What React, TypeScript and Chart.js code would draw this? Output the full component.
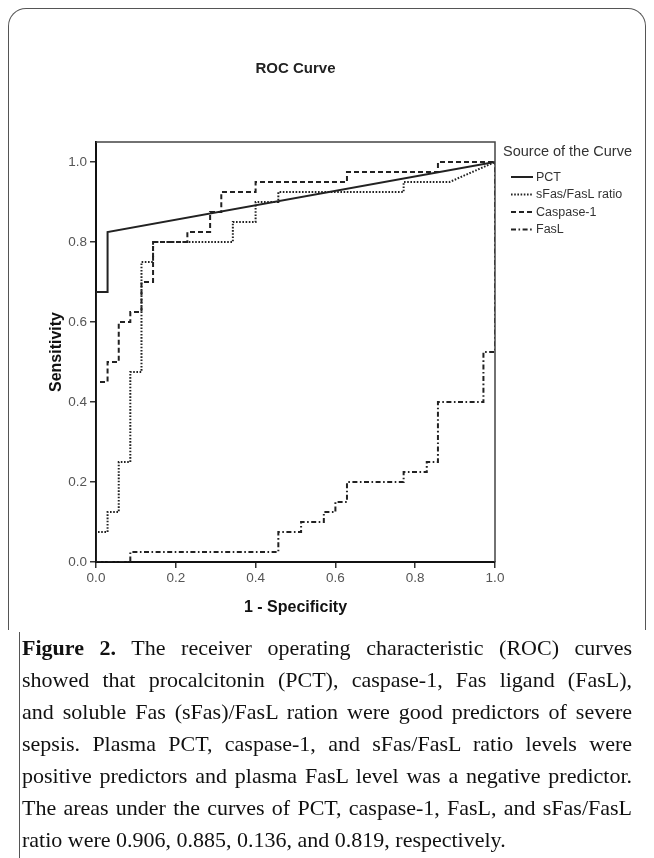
import React, { useEffect, useRef } from "react";
import { Chart, registerables } from "chart.js";

Chart.register(...registerables);

// ---- data ----
const curveNames = ["PCT", "sFas/FasL ratio", "Caspase-1", "FasL"];

const pctX = [0, 0, 0.029, 0.029, 1];
const pctY = [0, 0.675, 0.675, 0.825, 1];

const sfasX = [0, 0, 0.029, 0.029, 0.057, 0.057, 0.086, 0.086, 0.114, 0.114, 0.143, 0.143, 0.343, 0.343, 0.4, 0.4, 0.457, 0.457, 0.771, 0.771, 0.886, 1];
const sfasY = [0, 0.075, 0.075, 0.125, 0.125, 0.25, 0.25, 0.475, 0.475, 0.75, 0.75, 0.8, 0.8, 0.85, 0.85, 0.9, 0.9, 0.925, 0.925, 0.95, 0.95, 1];

const caspX = [0, 0, 0.029, 0.029, 0.057, 0.057, 0.086, 0.086, 0.114, 0.114, 0.143, 0.143, 0.229, 0.229, 0.286, 0.286, 0.314, 0.314, 0.4, 0.4, 0.629, 0.629, 0.857, 0.857, 1];
const caspY = [0, 0.45, 0.45, 0.5, 0.5, 0.6, 0.6, 0.625, 0.625, 0.7, 0.7, 0.8, 0.8, 0.825, 0.825, 0.875, 0.875, 0.925, 0.925, 0.95, 0.95, 0.975, 0.975, 1, 1];

const faslX = [0, 0.086, 0.086, 0.457, 0.457, 0.514, 0.514, 0.571, 0.571, 0.6, 0.6, 0.629, 0.629, 0.771, 0.771, 0.829, 0.829, 0.857, 0.857, 0.971, 0.971, 1, 1];
const faslY = [0, 0, 0.025, 0.025, 0.075, 0.075, 0.1, 0.1, 0.125, 0.125, 0.15, 0.15, 0.2, 0.2, 0.225, 0.225, 0.25, 0.25, 0.4, 0.4, 0.525, 0.525, 1];

const tickValues = [0, 0.2, 0.4, 0.6, 0.8, 1.0];

const chartTitle = "ROC Curve";
const legendTitle = "Source of the Curve";
const xTitle = "1 - Specificity";
const yTitle = "Sensitivity";

const captionLabel = "Figure 2.";
const captionLines = [
  " The receiver operating characteristic (ROC) curves",
  "showed that procalcitonin (PCT), caspase-1, Fas ligand (FasL),",
  "and soluble Fas (sFas)/FasL ration were good predictors of severe",
  "sepsis. Plasma PCT, caspase-1, and sFas/FasL ratio levels were",
  "positive predictors and plasma FasL level was a negative predictor.",
  "The areas under the curves of PCT, caspase-1, FasL, and sFas/FasL",
  "ratio were 0.906, 0.885, 0.136, and 0.819, respectively.",
];

const SANS = "'Liberation Sans', Arial, Helvetica, sans-serif";
const SERIF = "'Liberation Serif', 'Times New Roman', Times, serif";

const lineStyles = [
  { dash: [] as number[], width: 2 },
  { dash: [1.6, 1.6], width: 2 },
  { dash: [5, 3], width: 2 },
  { dash: [5, 2.5, 1.6, 2.5], width: 2 },
];

function toPoints(xs: number[], ys: number[]) {
  return xs.map((x, i) => ({ x, y: ys[i] }));
}

export default function App() {
  const canvasRef = useRef<HTMLCanvasElement>(null);

  useEffect(() => {
    document.documentElement.style.overflow = "hidden";
    const canvas = canvasRef.current;
    if (!canvas) return;
    const series = [
      [pctX, pctY],
      [sfasX, sfasY],
      [caspX, caspY],
      [faslX, faslY],
    ];

    const decor = {
      id: "decor",
      afterDatasetsDraw(chart: any) {
        const { ctx, chartArea } = chart;
        ctx.save();
        ctx.strokeStyle = "#444";
        ctx.lineWidth = 1.5;
        ctx.beginPath();
        ctx.moveTo(chartArea.left, chartArea.top);
        ctx.lineTo(chartArea.right, chartArea.top);
        ctx.lineTo(chartArea.right, chartArea.bottom);
        ctx.stroke();
        ctx.restore();
      },
      afterDraw(chart: any) {
        const { ctx, chartArea } = chart;
        ctx.save();
        ctx.fillStyle = "#222";
        ctx.font = `bold 15px ${SANS}`;
        ctx.textAlign = "center";
        ctx.textBaseline = "middle";
        ctx.fillText(chartTitle, (chartArea.left + chartArea.right) / 2, 61);
        const lx = chartArea.right + 8;
        ctx.textAlign = "left";
        ctx.fillStyle = "#333";
        ctx.font = `14.5px ${SANS}`;
        ctx.fillText(legendTitle, lx, chartArea.top + 10);
        ctx.font = `12.5px ${SANS}`;
        chart.data.datasets.forEach((ds: any, i: number) => {
          const y = chartArea.top + 35 + i * 17.5;
          ctx.save();
          ctx.strokeStyle = "#222";
          ctx.lineWidth = ds.borderWidth;
          ctx.setLineDash(ds.borderDash || []);
          ctx.beginPath();
          ctx.moveTo(lx + 8, y);
          ctx.lineTo(lx + 30, y);
          ctx.stroke();
          ctx.restore();
          ctx.fillText(ds.label, lx + 33, y + 0.5);
        });
        ctx.restore();
      },
    };

    const axisCommon = (titleText: string, titlePad: any) => ({
      type: "linear" as const,
      afterBuildTicks: (s: any) => {
        s.ticks = tickValues.map((v) => ({ value: v }));
      },
      ticks: {
        callback: (v: any) => Number(v).toFixed(1),
        font: { family: SANS, size: 13.5 },
        color: "#555",
        autoSkip: false,
        maxRotation: 0,
        includeBounds: false,
      },
      grid: {
        display: true,
        drawOnChartArea: false,
        drawTicks: true,
        tickLength: 6,
        color: "#333",
        lineWidth: 1.5,
      },
      border: { display: true, color: "#111", width: 2 },
      title: {
        display: true,
        text: titleText,
        font: { family: SANS, size: 16, weight: "bold" as const },
        color: "#111",
        padding: titlePad,
      },
    });

    const xAxis: any = axisCommon(xTitle, { top: 0, bottom: 16 });
    xAxis.min = 0;
    xAxis.max = 1;
    xAxis.ticks.padding = 2;
    xAxis.afterFit = (s: any) => {
      s.height = 71;
    };

    const yAxis: any = axisCommon(yTitle, { top: 39, bottom: 0 });
    yAxis.min = 0;
    yAxis.max = 1.05;
    yAxis.ticks.padding = 3;
    yAxis.afterFit = (s: any) => {
      s.width = 88;
    };

    const chart = new Chart(canvas, {
      type: "line",
      data: {
        datasets: series.map((s, i) => ({
          label: curveNames[i],
          data: toPoints(s[0], s[1]),
          borderColor: "#222",
          borderWidth: lineStyles[i].width,
          borderDash: lineStyles[i].dash,
          borderCapStyle: "butt" as const,
          pointRadius: 0,
          tension: 0,
          fill: false,
        })),
      },
      options: {
        responsive: false,
        maintainAspectRatio: false,
        animation: false,
        layout: { padding: { left: 0, right: 151, top: 134, bottom: 0 } },
        plugins: {
          legend: { display: false },
          title: { display: false },
          tooltip: { enabled: false },
        },
        scales: { x: xAxis, y: yAxis },
      },
      plugins: [decor],
    });
    return () => chart.destroy();
  }, []);

  return (
    <div style={{ position: "relative", width: 638, height: 850, overflow: "hidden" }}>
      <div
        style={{
          position: "absolute",
          left: 0,
          top: 0,
          width: 638,
          height: 622,
          boxSizing: "border-box",
          border: "1.5px solid #555",
          borderBottom: "none",
          borderRadius: "18px 18px 0 0",
        }}
      />
      <div
        style={{
          position: "absolute",
          left: 11,
          top: 624,
          width: 0,
          height: 240,
          borderLeft: "1.5px solid #555",
        }}
      />
      <canvas ref={canvasRef} width={638} height={625} style={{ position: "absolute", left: 0, top: 0 }} />
      <div
        style={{
          position: "absolute",
          left: 14,
          top: 624,
          width: 610,
          fontFamily: SERIF,
          fontSize: 22,
          lineHeight: "32px",
          color: "#111",
        }}
      >
        {captionLines.map((line, i) => (
          <div
            key={i}
            style={{
              whiteSpace: "nowrap",
              textAlign: "justify",
              textAlignLast: i < captionLines.length - 1 ? "justify" : "left",
            }}
          >
            {i === 0 ? <b>{captionLabel}</b> : null}
            {line}
          </div>
        ))}
      </div>
    </div>
  );
}
